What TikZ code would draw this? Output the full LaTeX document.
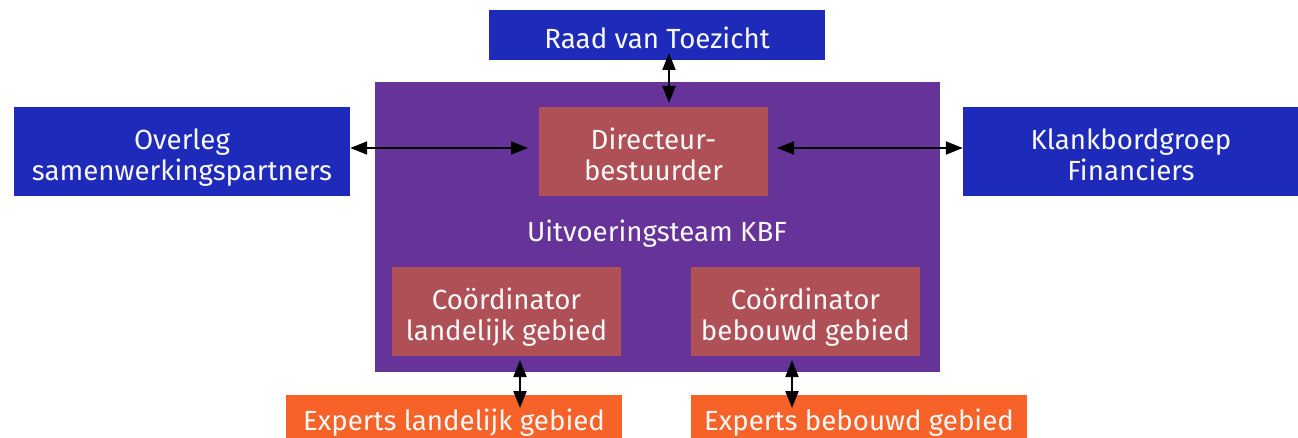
\documentclass[tikz,border=0pt]{standalone}
\usepackage{fontspec}
\setmainfont{Fira Sans}
\usetikzlibrary{arrows.meta}
\definecolor{cblue}{HTML}{1E2AB9}
\definecolor{cpurple}{HTML}{663399}
\definecolor{cred}{HTML}{AF4F56}
\definecolor{corange}{HTML}{F76228}
\definecolor{ctext}{HTML}{F8F8F8}
\newcommand\boxlines[1]{\raisebox{0pt}[\dimexpr\height+14pt\relax][\depth]{\begin{tabular}{@{}c@{}}#1\end{tabular}}}
\begin{document}
\begin{tikzpicture}[x=1pt,y=-1pt,
  box/.style={inner sep=0pt, text=ctext, font=\fontsize{27.7}{31}\selectfont, align=center},
  conn/.style={{Triangle[length=17pt,width=13pt]}-{Triangle[length=17pt,width=13pt]}, line width=2pt, black}]
\useasboundingbox (0,0) rectangle (1298,438);
\fill[cpurple] (375,82) rectangle (940,372);
\node[box, fill=cblue, minimum width=336pt, minimum height=50pt] (raad) at (657,35) {\boxlines{Raad van Toezicht}};
\node[box, fill=cred, minimum width=229pt, minimum height=89pt] (dir) at (653.5,151.5) {\boxlines{Directeur-\\bestuurder}};
\node[box, fill=cblue, minimum width=336pt, minimum height=89pt] (ovl) at (182,151.5) {\boxlines{Overleg\\samenwerkingspartners}};
\node[box, fill=cblue, minimum width=336pt, minimum height=89pt] (kbf) at (1131,151.5) {\boxlines{Klankbordgroep\\Financiers}};
\node[box] (team) at (657,228) {\boxlines{Uitvoeringsteam KBF}};
\node[box, fill=cred, minimum width=229pt, minimum height=89pt] (cl) at (506.5,311.5) {\boxlines{Coördinator\\landelijk gebied}};
\node[box, fill=cred, minimum width=229pt, minimum height=89pt] (cb) at (805.5,311.5) {\boxlines{Coördinator\\bebouwd gebied}};
\node[box, fill=corange, minimum width=336pt, minimum height=45pt, anchor=north] (el) at (454,395) {\boxlines{Experts landelijk gebied}};
\node[box, fill=corange, minimum width=336pt, minimum height=45pt, anchor=north] (eb) at (859,395) {\boxlines{Experts bebouwd gebied}};
\coordinate (a2) at (528,148);
\coordinate (b1) at (777,148);
\coordinate (c1) at (669,53); \coordinate (c2) at (669,103);
\coordinate (d1) at (520,360); \coordinate (d2) at (520,408);
\coordinate (e1) at (792,360); \coordinate (e2) at (792,408);
\draw[conn] (ovl.east |- a2) -- (a2);
\draw[conn] (b1) -- (kbf.west |- b1);
\draw[conn] (c1) -- (c2);
\draw[conn] (d1) -- (d2);
\draw[conn] (e1) -- (e2);
\end{tikzpicture}
\end{document}
